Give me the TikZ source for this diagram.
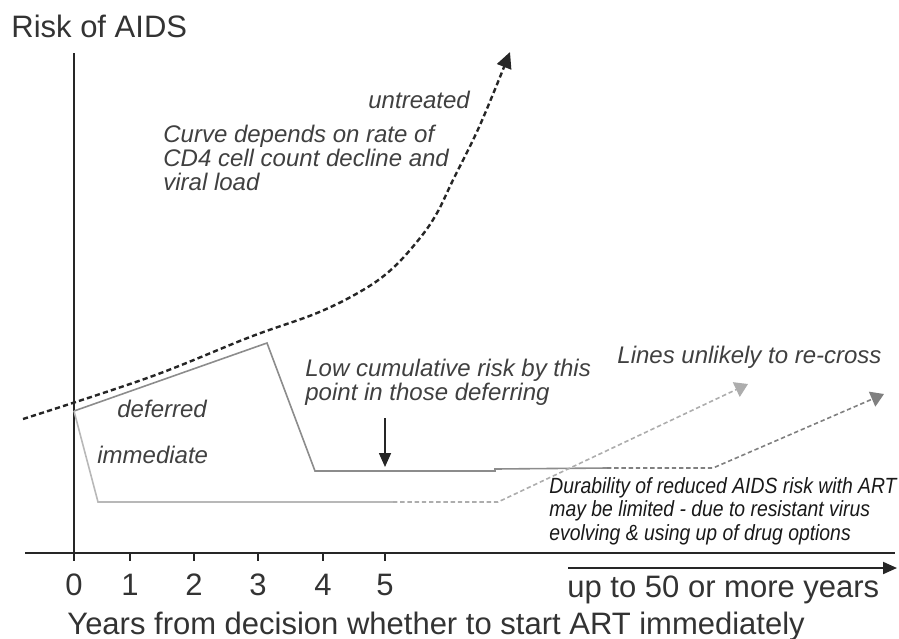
\documentclass[tikz,border=0pt]{standalone}
\usepackage{fontspec}
\setmainfont{Liberation Sans}
\newfontfamily\narrowfont[FakeStretch=0.88]{Liberation Sans}
\usetikzlibrary{arrows.meta}

\tikzset{
  axis/.style={line width=1pt, draw=black!85},
  bigtext/.style={font=\fontsize{15.5}{18}\selectfont, text=black!80, inner sep=0pt, anchor=base west},
  note/.style={font=\fontsize{12}{11.8}\selectfont\itshape, text=black!75, inner sep=0pt, align=left, anchor=base west},
  smallnote/.style={font=\narrowfont\fontsize{11}{11.75}\selectfont\itshape, text=black!90, inner sep=0pt, align=left, anchor=base west},
  untreatedline/.style={line width=1.2pt, draw=black!85, dash pattern=on 2.6pt off 1.6pt},
  deferline/.style={line width=0.8pt, draw=black!45},
  immline/.style={line width=0.8pt, draw=black!28},
  dashpart/.style={dash pattern=on 2.2pt off 1.4pt},
  tip/.style={-{Triangle[length=6.5pt,width=8pt]}}
}

\begin{document}
\begin{tikzpicture}[x=0.5pt,y=-0.5pt]

\useasboundingbox (0,0) rectangle (899,638);

% axes
\draw [axis] (74,53) -- (74,560);
\draw [axis] (25,553) -- (895,553);
\foreach \x/\t in {74/0,130/1,194/2,258/3,323/4,385/5}
{
  \draw [axis] (\x,553) -- (\x,561);
  \node [bigtext, anchor=base] (tick\t) at (\x,595) {\t};
}
\coordinate (farstart) at (568,568);
\coordinate (farend) at (897,568);
\draw [axis, -{Triangle[length=7pt,width=6pt]}] (farstart) -- (farend);

% untreated curve
\draw [untreatedline, -{Triangle[length=8pt,width=7.5pt]}]
plot [smooth, tension=0.6] coordinates {(23,419) (150,377) (250,337) (317,313) (363,290) (393,268) (420,238) (437,213) (453,180) (480,125) (510,52)};

% deferred
\draw [deferline] (74,411) -- (267,343) -- (315,471) -- (495,471) -- (495,469) -- (607,468);
\draw [deferline, dashpart, tip, black!50] (607,468) -- (713,468) -- (884,394);

% immediate
\draw [immline] (74,411) -- (98,502) -- (393,502);
\draw [immline, dashpart, tip, black!32] (393,502) -- (498,502) -- (748,384);

% low risk arrow
\coordinate (lowtop) at (385,418);
\coordinate (lowtip) at (385,467);
\draw [line width=0.8pt, black!85, -{Triangle[length=7pt,width=6pt]}] (lowtop) -- (lowtip);

% labels (multi-line notes sit on their last line)
\node [bigtext] (ylabel) at (11,37) {Risk of AIDS};
\node [bigtext] (xlabel) at (67,634) {Years from decision whether to start ART immediately};
\node [bigtext] (farlabel) at (567,597) {up to 50 or more years};

\node [note] (untreated) at (368,108) {untreated};
\node [note] (curvenote) at (163,190) {Curve depends on rate of\\CD4 cell count decline and\\viral load};
\node [note] (deferred) at (117,417) {deferred};
\node [note] (immediate) at (97,463) {immediate};
\node [note] (lownote) at (305,400) {Low cumulative risk by this\\point in those deferring};
\node [note] (recross) at (617,363) {Lines unlikely to re-cross};
\node [smallnote] (durability) at (549,540) {Durability of reduced AIDS risk with ART\\may be limited - due to resistant virus\\evolving \& using up of drug options};

\end{tikzpicture}
\end{document}
